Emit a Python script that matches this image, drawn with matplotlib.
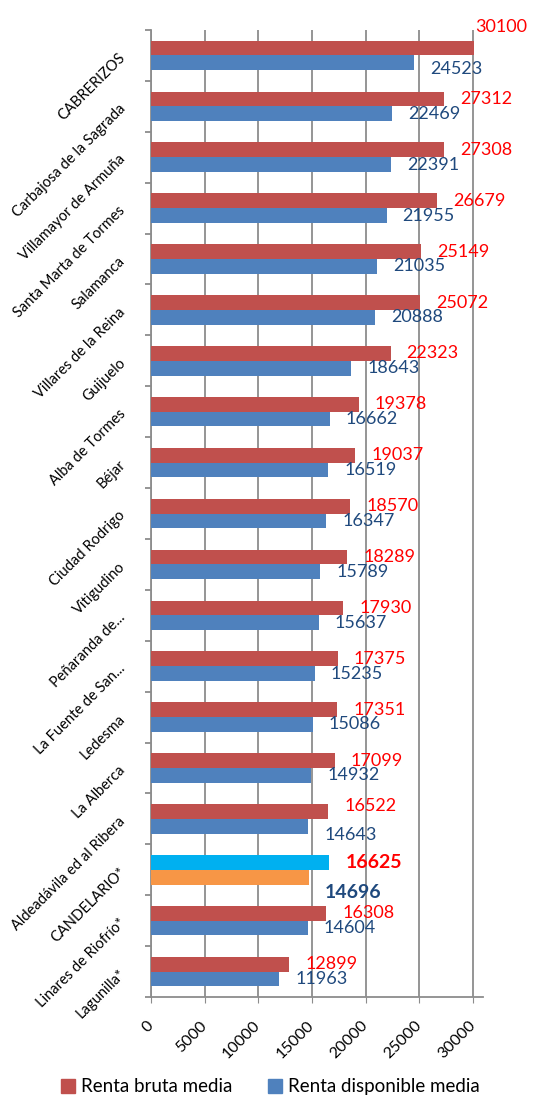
import matplotlib.pyplot as plt
from matplotlib.patches import Patch
import numpy as np

plt.rcParams['font.family'] = ['Lato', 'DejaVu Sans']

municipios = ["CABRERIZOS", "Carbajosa de la Sagrada", "Villamayor de Armuña",
              "Santa Marta de Tormes", "Salamanca", "Villares de la Reina",
              "Guijuelo", "Alba de Tormes", "Béjar", "Ciudad Rodrigo", "Vitigudino",
              "Peñaranda de...", "La Fuente de San...", "Ledesma", "La Alberca",
              "Aldeadávila ed al Ribera", "CANDELARIO*", "Linares de Riofrío*", "Lagunilla*"]
renta_bruta = [30100, 27312, 27308, 26679, 25149, 25072, 22323, 19378, 19037, 18570,
               18289, 17930, 17375, 17351, 17099, 16522, 16625, 16308, 12899]
renta_disp = [24523, 22469, 22391, 21955, 21035, 20888, 18643, 16662, 16519, 16347,
              15789, 15637, 15235, 15086, 14932, 14643, 14696, 14604, 11963]
destacado = "CANDELARIO*"

ROJO, AZUL = '#C0504D', '#4F81BD'
CIAN, NARANJA = '#00B0F0', '#F79646'
TXT_ROJO, TXT_AZUL = '#FF0000', '#1F497D'
GRIS = '#8C8C8C'

fig = plt.figure(figsize=(5.46, 10.97), dpi=100)
ax = fig.add_axes([151/546, 1 - 997/1097, 332/546, 967/1097])

y = np.arange(len(municipios))
h = 0.29
col_b = [CIAN if m == destacado else ROJO for m in municipios]
col_d = [NARANJA if m == destacado else AZUL for m in municipios]
ax.barh(y - h/2, renta_bruta, height=h, color=col_b, zorder=3)
ax.barh(y + h/2, renta_disp, height=h, color=col_d, zorder=3)

# desplazamientos manuales de algunas etiquetas (px)
ajuste_b = {0: (1, -21), 15: (16, -5)}
ajuste_d = {0: (16, 6), 15: (16, 9), 16: (16, 15)}
for i, m in enumerate(municipios):
    bold = (m == destacado)
    fs = 14 if bold else 13
    fw = 'bold' if bold else 'normal'
    dx, dy = ajuste_b.get(i, (16, 0))
    ax.annotate(str(renta_bruta[i]), (renta_bruta[i], y[i] - h/2), xytext=(dx, -dy),
                textcoords='offset pixels', ha='left', va='center', color=TXT_ROJO,
                fontsize=fs, fontweight=fw, annotation_clip=False, zorder=5)
    dx, dy = ajuste_d.get(i, (16, 0))
    ax.annotate(str(renta_disp[i]), (renta_disp[i], y[i] + h/2), xytext=(dx, -dy),
                textcoords='offset pixels', ha='left', va='center', color=TXT_AZUL,
                fontsize=fs, fontweight=fw, annotation_clip=False, zorder=5)

ax.set_xlim(0, 30930)
ax.set_ylim(len(municipios) - 0.5, -0.5)
ax.set_xticks(range(0, 30001, 5000))
ax.set_xticklabels([str(v) for v in range(0, 30001, 5000)], rotation=45,
                   ha='right', va='center', rotation_mode='anchor', fontsize=11.5)
ax.tick_params(axis='x', length=4, color=GRIS, pad=15)
ax.grid(axis='x', color=GRIS, linewidth=1.3, zorder=0)

ax.set_yticks(y)
ax.set_yticklabels(municipios, rotation=45, ha='right', va='center',
                   rotation_mode='anchor', fontsize=10.5)
ax.tick_params(axis='y', length=0, pad=20)
ax.set_yticks(np.arange(-0.5, len(municipios)), minor=True)
ax.tick_params(axis='y', which='minor', length=4, color=GRIS, width=1.3)

for s in ['top', 'right']:
    ax.spines[s].set_visible(False)
for s in ['left', 'bottom']:
    ax.spines[s].set_color(GRIS)
    ax.spines[s].set_linewidth(1.3)

handles = [Patch(color=ROJO, label='Renta bruta media'),
           Patch(color=AZUL, label='Renta disponible media')]
fig.legend(handles=handles, loc='lower center', bbox_to_anchor=(0.495, -0.014), ncol=2,
           frameon=False, fontsize=13.5, handlelength=0.75, handleheight=0.75,
           handletextpad=0.3, columnspacing=1.9)

fig.savefig('out.png', dpi=100)
